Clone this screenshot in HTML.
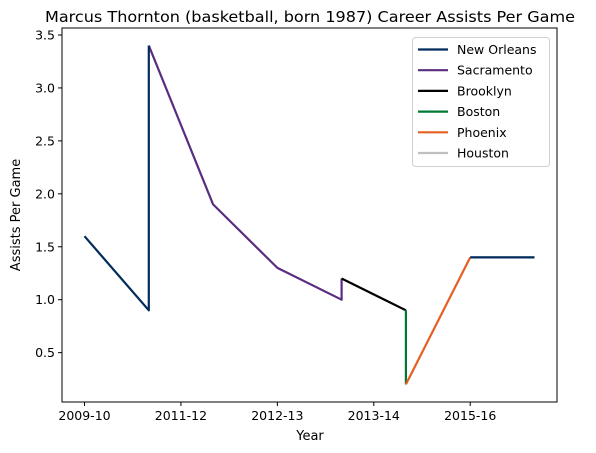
<!DOCTYPE html>
<html><head><meta charset="utf-8"><style>
body{margin:0;background:#fff}
svg{display:block;font-family:"DejaVu Sans","Liberation Sans",sans-serif}
</style></head><body>
<svg id="chart" width="596" height="453" viewBox="0 0 596 453" xmlns="http://www.w3.org/2000/svg">
<rect width="596" height="453" fill="#fff"/>
<text x="310" y="22" font-size="15.5" text-anchor="middle" textLength="530" lengthAdjust="spacingAndGlyphs">Marcus Thornton (basketball, born 1987) Career Assists Per Game</text>
<g id="plot"></g>
<rect x="62" y="28" width="495" height="374" fill="none" stroke="#000" stroke-width="1"/>
<g id="axes"></g>
<text x="310" y="440" font-size="13" text-anchor="middle">Year</text>
<text transform="translate(20,215) rotate(-90)" font-size="13" text-anchor="middle">Assists Per Game</text>
<g id="legend"></g>
</svg>
<script>
const teams = ["New Orleans","Sacramento","Brooklyn","Boston","Phoenix","Houston"];
const colors = ["#002B5C","#5A2D81","#000000","#007A33","#E56020","#C0C0C0"];
// x = season index (0 = 2009-10), null breaks line
const houstonX = [6,7];  const houstonY = [1.4,1.4];
const sacX = [1,2,3,4,4];  const sacY = [3.4,1.9,1.3,1.0,1.2];
const bknX = [4,5];      const bknY = [1.2,0.9];
const bosX = [5,5];      const bosY = [0.9,0.2];
const phxX = [5,6];      const phxY = [0.2,1.4];
const nolaX = [0,1,1,null,6,7]; const nolaY = [1.6,0.9,3.4,null,1.4,1.4];
const xTickPos = [0,1.5,3,4.5,6];
const xTickLabels = ["2009-10","2011-12","2012-13","2013-14","2015-16"];
const yTicks = [0.5,1.0,1.5,2.0,2.5,3.0,3.5];

const NS="http://www.w3.org/2000/svg";
const L=62,R=557,T=28,B=402, xmin=-0.35,xmax=7.35, ymin=0.034,ymax=3.566;
const xs=v=>L+(v-xmin)/(xmax-xmin)*(R-L);
const ys=v=>B-(v-ymin)/(ymax-ymin)*(B-T);
function mk(t,a,p){const e=document.createElementNS(NS,t);for(const k in a)e.setAttribute(k,a[k]);p.appendChild(e);return e;}
const plot=document.getElementById('plot'), axes=document.getElementById('axes'), leg=document.getElementById('legend');
function series(X,Y,c,name){
  let d="",pen=false;
  for(let i=0;i<X.length;i++){ if(X[i]===null){pen=false;continue;} d+=(pen?"L":"M")+xs(X[i]).toFixed(1)+" "+ys(Y[i]).toFixed(1)+" "; pen=true; }
  const p=mk('path',{d:d,fill:"none",stroke:c,"stroke-width":2.2,"stroke-linejoin":"round"},plot);
  
  
}
series(houstonX,houstonY,colors[5],'line-houston');
series(sacX,sacY,colors[1],'line-sacramento');
series(bknX,bknY,colors[2],'line-brooklyn');
series(bosX,bosY,colors[3],'line-boston');
series(phxX,phxY,colors[4],'line-phoenix');
series(nolaX,nolaY,colors[0],'line-new-orleans');
xTickPos.forEach((v,i)=>{
  const x=xs(v);
  const t=mk('line',{x1:x,x2:x,y1:B,y2:B+4,stroke:"#000"},axes);
  
  
  const l=mk('text',{x:x,y:B+18,"font-size":12.5,"text-anchor":"middle"},axes);
  l.textContent=xTickLabels[i];
  
  
});
yTicks.forEach(v=>{
  const y=ys(v);
  const t=mk('line',{x1:L-4,x2:L,y1:y,y2:y,stroke:"#000"},axes);
  
  
  const l=mk('text',{x:L-7,y:y+4.5,"font-size":12.5,"text-anchor":"end"},axes);
  l.textContent=v.toFixed(1);
  
  
});
const box=mk('rect',{x:412.5,y:37.5,width:137,height:129,rx:3,fill:"#fff","fill-opacity":0.8,stroke:"#d0d0d0"},leg);


teams.forEach((n,i)=>{
  const y=49.5+i*20.7;
  const g=mk('g',{},leg);
  
  
  mk('line',{x1:418,x2:448,y1:y,y2:y,stroke:colors[i],"stroke-width":2.2},g);
  const t=mk('text',{x:457,y:y+4.5,"font-size":12.5},g);
  t.textContent=n;
});
</script>
</body></html>
